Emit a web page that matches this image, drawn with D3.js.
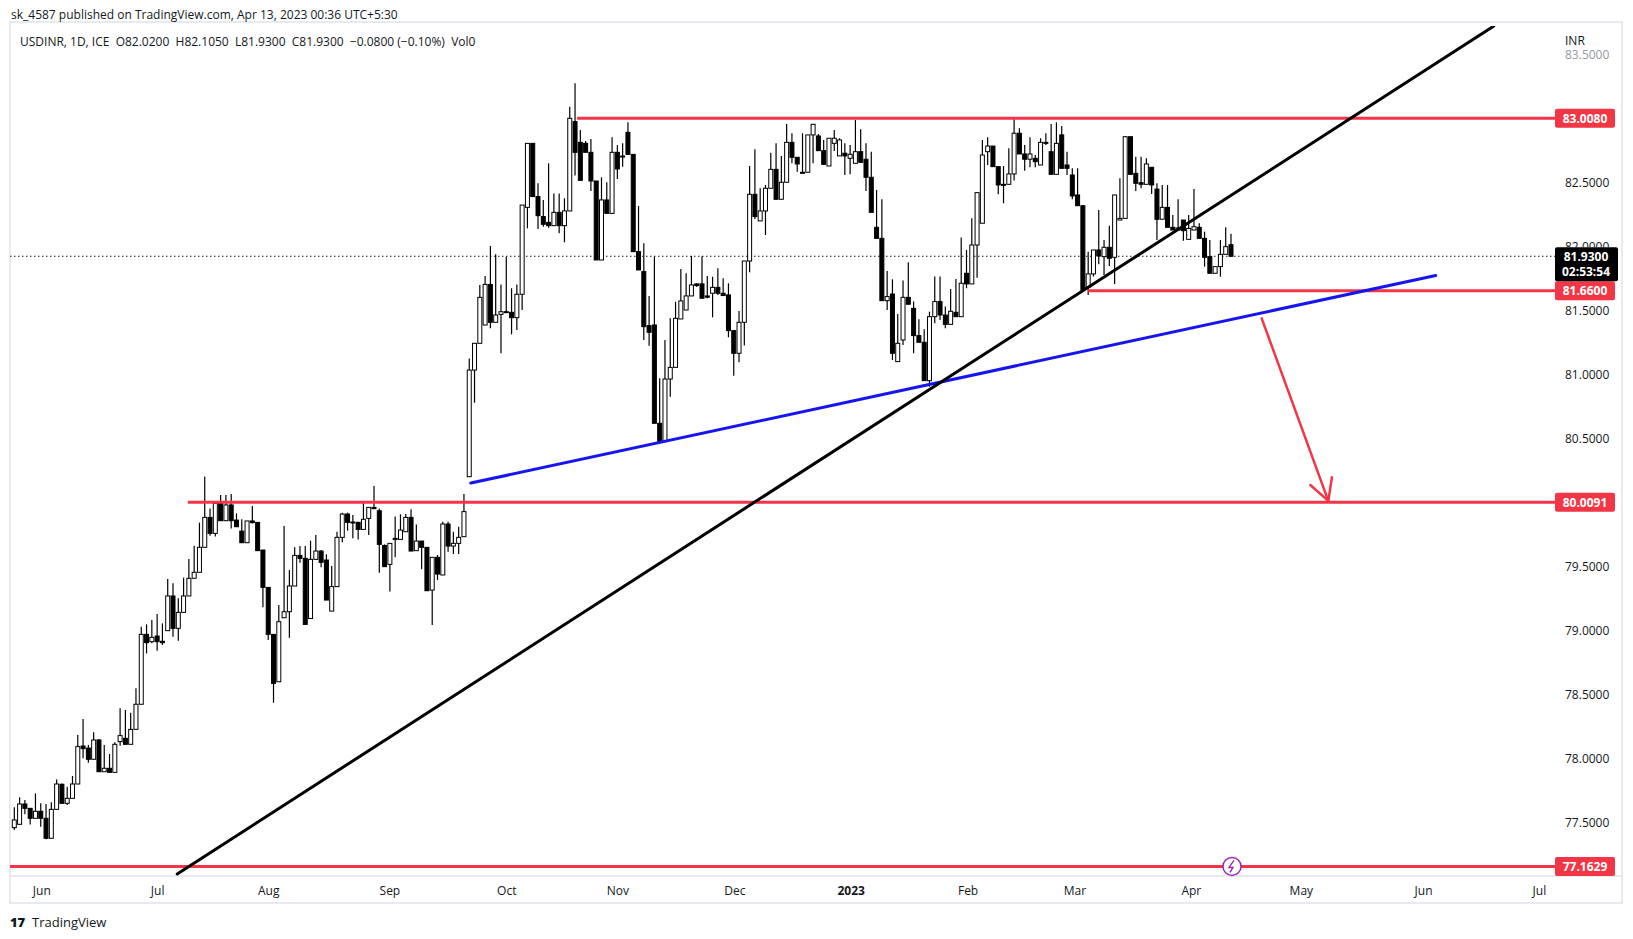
<!DOCTYPE html>
<html>
<head>
<meta charset="utf-8">
<script src="https://cdn.jsdelivr.net/npm/d3@7"></script>
<style>
  body { margin: 0; background: #fff; font-family: "Open Sans", "Liberation Sans", sans-serif; }
  svg text { fill: #131722; }
</style>
</head>
<body>
<div id="vis"></div>
<script>
// --- data (one value per daily bar) ---
const opens = [77.466,77.492,77.651,77.617,77.539,77.594,77.539,77.383,77.609,77.805,
77.656,77.695,77.807,78.104,78.088,78.0,78.151,77.903,77.93,77.898,
78.138,78.164,78.117,78.234,78.43,78.976,78.919,78.963,78.922,79.005,
79.276,79.023,79.148,79.276,79.414,79.461,79.656,79.89,79.765,79.999,
79.864,79.987,79.869,79.783,79.692,79.862,79.851,79.635,79.343,78.976,
78.606,79.106,79.153,79.354,79.593,79.57,79.1,79.562,79.627,79.557,
79.158,79.349,79.734,79.916,79.854,79.851,79.796,79.882,79.968,79.942,
79.671,79.523,79.721,79.718,79.778,79.89,79.63,79.705,79.656,79.322,
79.578,79.44,79.838,79.666,79.687,79.739,80.208,81.041,81.25,81.393,
81.71,81.414,81.476,81.497,81.492,81.45,81.633,82.312,82.812,82.396,
82.24,82.195,82.169,82.273,82.169,82.284,82.982,82.82,82.812,82.742,
82.518,81.901,82.37,82.265,82.742,82.708,82.898,82.726,81.966,81.81,
81.388,81.393,80.625,80.482,80.971,81.062,81.44,81.51,81.62,81.714,
81.714,81.62,81.641,81.687,81.641,81.628,81.349,81.172,81.414,81.893,
82.414,82.206,82.284,82.461,82.609,82.375,82.508,82.82,82.703,82.586,
82.586,82.878,82.87,82.755,82.635,82.812,82.714,82.735,82.695,82.656,
82.747,82.688,82.547,82.156,82.07,81.583,81.635,81.107,81.276,81.609,
81.523,81.31,81.258,80.958,81.458,81.576,81.471,81.398,81.492,81.458,
81.797,81.714,82.018,82.188,82.747,82.791,82.63,82.492,82.492,82.573,
82.891,82.729,82.688,82.695,82.643,82.82,82.747,82.57,82.878,82.643,
82.565,82.409,82.325,81.688,81.792,81.979,81.927,82.0,81.922,82.213,
82.226,82.864,82.578,82.505,82.492,82.625,82.455,82.219,82.312,82.156,
82.135,82.213,82.062,82.135,82.156,82.07,81.927,81.797,81.849,81.945,82.02];

const highs = [77.625,77.703,77.682,77.617,77.734,77.656,77.65,77.664,77.843,77.81,
77.786,77.87,78.19,78.315,78.112,78.211,78.159,78.112,78.041,78.133,
78.398,78.385,78.364,78.555,79.036,79.054,79.088,79.135,79.062,79.409,
79.375,79.258,79.419,79.565,79.669,79.849,80.21,79.96,80.0,80.065,
80.065,80.073,79.921,79.875,79.862,79.979,79.851,79.635,79.343,78.976,
79.205,79.823,79.479,79.656,79.666,79.666,79.708,79.752,79.635,79.601,
79.51,79.778,79.927,79.927,79.908,79.856,80.005,79.968,80.135,79.96,
79.679,79.687,79.896,79.914,79.916,79.953,79.835,79.705,79.656,79.578,
79.596,79.856,79.856,79.778,79.817,80.073,81.132,81.25,81.705,81.776,
82.01,81.945,81.71,81.927,81.68,81.71,82.33,82.812,82.812,82.5,
82.37,82.656,82.421,82.421,82.383,83.099,83.281,82.916,82.83,82.846,
82.518,82.547,82.508,82.859,82.799,82.812,82.976,82.726,82.323,82.031,
81.619,81.927,80.976,81.276,81.445,81.575,81.831,81.797,81.932,81.72,
81.93,81.776,81.77,81.836,81.758,81.719,81.349,81.503,81.893,82.635,
82.766,82.461,82.487,82.739,82.812,82.713,82.963,82.891,82.703,82.891,
82.878,82.961,82.885,82.838,82.852,82.917,82.852,82.813,82.8,82.995,
82.922,82.813,82.747,82.448,82.375,81.815,81.75,81.479,81.74,81.883,
81.576,81.437,81.36,81.497,81.771,81.771,81.537,81.675,81.753,82.076,
81.979,82.227,82.427,82.839,82.859,82.791,82.63,82.635,82.773,83.0,
82.93,82.8,82.859,82.721,82.852,82.891,82.963,82.976,82.948,82.747,
82.617,82.617,82.325,81.966,81.979,82.291,82.057,82.169,82.409,82.539,
82.87,82.864,82.708,82.708,82.695,82.625,82.5,82.487,82.487,82.252,
82.375,82.213,82.252,82.455,82.187,82.122,82.057,81.849,82.057,82.156,82.105];

const lows = [77.448,77.49,77.57,77.49,77.539,77.474,77.375,77.383,77.604,77.65,
77.643,77.695,77.807,78.008,77.974,78.0,77.903,77.903,77.898,77.898,
78.106,78.117,78.117,78.234,78.43,78.828,78.906,78.849,78.893,79.005,
78.958,78.927,79.148,79.276,79.414,79.461,79.656,79.747,79.74,79.864,
79.864,79.804,79.817,79.692,79.692,79.843,79.63,79.187,78.932,78.442,
78.606,79.106,78.95,79.354,79.536,79.054,79.1,79.562,79.5,79.244,
79.158,79.349,79.695,79.786,79.726,79.718,79.796,79.752,79.958,79.458,
79.505,79.31,79.578,79.718,79.778,79.627,79.63,79.484,79.317,79.049,
79.4,79.44,79.622,79.604,79.604,79.739,80.208,80.786,81.25,81.393,
81.367,81.414,81.172,81.492,81.32,81.354,81.51,82.148,82.396,82.143,
82.161,82.153,82.169,82.109,82.039,82.284,82.56,82.523,82.742,82.44,
81.901,81.901,82.265,82.265,82.534,82.63,82.726,81.966,81.823,81.276,
81.231,80.625,80.482,80.482,80.833,81.062,81.44,81.51,81.62,81.69,
81.602,81.602,81.453,81.628,81.623,81.297,80.997,81.102,81.232,81.805,
82.221,82.206,82.096,82.461,82.375,82.375,82.508,82.656,82.591,82.578,
82.586,82.656,82.755,82.643,82.635,82.753,82.714,82.565,82.57,82.656,
82.664,82.44,82.273,82.07,81.583,81.51,81.12,81.107,81.237,81.555,
81.172,81.258,80.958,80.911,81.406,81.432,81.367,81.398,81.458,81.458,
81.68,81.714,81.763,82.188,82.643,82.63,82.414,82.344,82.492,82.521,
82.729,82.599,82.625,82.625,82.643,82.8,82.57,82.57,82.617,82.565,
82.375,82.325,81.667,81.628,81.771,81.867,81.784,81.854,81.713,82.213,
82.226,82.57,82.44,82.461,82.492,82.417,82.057,82.219,82.156,82.135,
82.135,82.052,82.062,82.135,82.07,81.849,81.797,81.797,81.771,81.945,81.93];

const closes = [77.526,77.651,77.617,77.539,77.594,77.539,77.383,77.609,77.807,77.656,
77.695,77.807,78.099,78.083,78.0,78.151,77.903,77.93,77.898,78.117,
78.185,78.117,78.234,78.43,78.976,78.911,78.953,78.919,78.911,79.276,
79.023,79.148,79.276,79.414,79.461,79.656,79.89,79.765,80.0,79.864,
79.987,79.864,79.817,79.692,79.862,79.849,79.63,79.343,78.976,78.593,
79.075,79.153,79.354,79.593,79.57,79.054,79.562,79.627,79.539,79.244,
79.349,79.734,79.916,79.851,79.849,79.796,79.875,79.968,79.958,79.679,
79.505,79.687,79.726,79.791,79.89,79.627,79.705,79.656,79.317,79.578,
79.447,79.838,79.666,79.687,79.734,79.935,81.041,81.25,81.609,81.71,
81.414,81.471,81.497,81.492,81.45,81.633,82.33,82.812,82.396,82.247,
82.18,82.169,82.273,82.169,82.284,83.008,82.742,82.523,82.742,82.518,
81.901,82.37,82.265,82.742,82.612,82.713,82.726,81.966,81.823,81.38,
81.336,80.625,80.482,80.971,81.062,81.445,81.581,81.62,81.706,81.701,
81.602,81.61,81.687,81.641,81.623,81.349,81.172,81.414,81.893,82.414,
82.24,82.284,82.461,82.609,82.375,82.508,82.82,82.703,82.651,82.578,
82.878,82.961,82.755,82.648,82.852,82.852,82.839,82.714,82.727,82.747,
82.664,82.547,82.273,82.07,81.583,81.615,81.172,81.25,81.609,81.555,
81.31,81.258,80.958,81.458,81.576,81.471,81.398,81.5,81.458,81.719,
81.714,82.018,82.427,82.721,82.791,82.63,82.487,82.484,82.573,82.891,
82.729,82.688,82.729,82.669,82.82,82.812,82.57,82.812,82.617,82.617,
82.401,82.325,81.667,81.792,81.979,81.932,82.0,81.914,82.409,82.226,
82.864,82.57,82.5,82.492,82.651,82.487,82.219,82.312,82.156,82.135,
82.151,82.13,82.148,82.161,82.07,81.922,81.797,81.849,81.945,82.005,81.93];

// month labels, positioned by bar index
const monthLabels = ["Jun","Jul","Aug","Sep","Oct","Nov","Dec","2023","Feb","Mar","Apr","May","Jun","Jul"];
const monthIndex = [5.2,27.1,48.1,71.0,93.1,114.1,136.2,158.2,180.3,200.5,222.5,243.3,266.4,288.3];

const priceTicks = [83.5,82.5,82.0,81.5,81.0,80.5,79.5,79.0,78.5,78.0,77.5];

// drawn levels and trend lines: [startIndex, startPrice, endIndex, endPrice]
const levels = [
  { price: 83.008, from: 106.4, label: "83.0080" },
  { price: 81.66,  from: 203,   label: "81.6600" },
  { price: 80.0091, from: 32.8, label: "80.0091" },
  { price: 77.1629, from: -3,   label: "77.1629" }
];
const blackTrend = [30.8, 77.104, 279.7, 83.729];
const blueTrend = [86.3, 80.158, 268.7, 81.78];
const arrowLine = [235.8, 81.445, 248.4, 80.019];
const lastPrice = 81.93;

const W = 1633, H = 939;
const pane = { left: 10, right: 1555, top: 26, bottom: 876 };

const svg = d3.select("#vis").append("svg").attr("width", W).attr("height", H);

const x = d3.scaleLinear().domain([0, 230]).range([14.3, 1231]);
const y = d3.scaleLinear().domain([77.5, 83.5]).range([823.3, 55.3]);

// frame
svg.append("rect").attr("x", 10).attr("y", 22).attr("width", 1612).attr("height", 881)
  .attr("fill", "none").attr("stroke", "#e0e3eb").attr("stroke-width", 1.5);
svg.append("line").attr("x1", 10).attr("x2", 1622).attr("y1", pane.bottom).attr("y2", pane.bottom)
  .attr("stroke", "#e0e3eb").attr("stroke-width", 1.5);

svg.append("clipPath").attr("id", "pane").append("rect")
  .attr("x", pane.left).attr("y", pane.top)
  .attr("width", pane.right - pane.left).attr("height", pane.bottom - pane.top);

const g = svg.append("g").attr("clip-path", "url(#pane)");

// last price dotted line
g.append("line").attr("x1", pane.left).attr("x2", pane.right)
  .attr("y1", y(lastPrice)).attr("y2", y(lastPrice))
  .attr("stroke", "#131722").attr("stroke-dasharray", "1.5,2.5");

// candles
const bars = d3.range(closes.length);
const candle = g.selectAll(".candle").data(bars).join("g").attr("class", "candle");
candle.append("line")
  .attr("x1", i => x(i)).attr("x2", i => x(i))
  .attr("y1", i => y(highs[i])).attr("y2", i => y(lows[i]))
  .attr("stroke", "#000").attr("stroke-width", 1.2);
candle.append("rect")
  .attr("x", i => x(i) - 2)
  .attr("y", i => y(Math.max(opens[i], closes[i])))
  .attr("width", 4)
  .attr("height", i => Math.max(1, Math.abs(y(opens[i]) - y(closes[i]))))
  .attr("fill", i => closes[i] >= opens[i] ? "#fff" : "#000")
  .attr("stroke", "#000").attr("stroke-width", 1);

// horizontal levels
g.selectAll(".level").data(levels).join("line")
  .attr("x1", d => Math.max(pane.left, x(d.from))).attr("x2", pane.right)
  .attr("y1", d => y(d.price)).attr("y2", d => y(d.price))
  .attr("stroke", "#f23645").attr("stroke-width", 3);

// trend lines
const seg = (t, color, w) => g.append("line")
  .attr("x1", x(t[0])).attr("y1", y(t[1])).attr("x2", x(t[2])).attr("y2", y(t[3]))
  .attr("stroke", color).attr("stroke-width", w).attr("stroke-linecap", "round");
seg(blueTrend, "#1515f0", 3);
seg(blackTrend, "#000", 3);
seg(arrowLine, "#f23645", 2.5);

// arrow head
const ax = x(arrowLine[2]), ay = y(arrowLine[3]);
const ang = Math.atan2(ay - y(arrowLine[1]), ax - x(arrowLine[0]));
[0.5, -0.5].forEach(da => {
  g.append("line").attr("x1", ax).attr("y1", ay)
    .attr("x2", ax - 24 * Math.cos(ang + da)).attr("y2", ay - 24 * Math.sin(ang + da))
    .attr("stroke", "#f23645").attr("stroke-width", 2.5).attr("stroke-linecap", "round");
});

// lightning marker on the bottom level
const lx = 1232, ly = y(77.1629);
svg.append("circle").attr("cx", lx).attr("cy", ly).attr("r", 9)
  .attr("fill", "#fff").attr("stroke", "#9c27b0").attr("stroke-width", 1.5);
svg.append("path")
  .attr("d", `M${lx + 2},${ly - 6} L${lx - 3},${ly + 1} L${lx + 1},${ly + 1} L${lx - 2},${ly + 6}`)
  .attr("fill", "none").attr("stroke", "#9c27b0").attr("stroke-width", 1.4);

// price axis (82.0000 sits mostly behind the last-price badge, as in the original)
svg.append("text").attr("x", 1565).attr("y", 45).attr("font-size", 12).text("INR");
svg.selectAll(".ptick").data(priceTicks.filter(d => d !== 82.0)).join("text")
  .attr("x", 1565).attr("y", d => y(d) + 4).attr("font-size", 12)
  .style("fill", d => d === 83.5 ? "#9598a1" : "#131722")
  .text(d => d.toFixed(4));
svg.append("clipPath").attr("id", "tickclip").append("rect")
  .attr("x", 1555).attr("y", y(82.0) - 10).attr("width", 70).attr("height", y(lastPrice) - 9 - (y(82.0) - 10));
svg.append("text").attr("clip-path", "url(#tickclip)")
  .attr("x", 1565).attr("y", y(82.0) + 4).attr("font-size", 12).text("82.0000");

// level badges
const badge = svg.selectAll(".badge").data(levels).join("g");
badge.append("rect").attr("x", 1555).attr("y", d => y(d.price) - 9.5)
  .attr("width", 60).attr("height", 19).attr("rx", 2).attr("fill", "#f23645");
badge.append("text").attr("x", 1585).attr("y", d => y(d.price) + 4.5)
  .attr("text-anchor", "middle").attr("font-size", 12).attr("font-weight", "bold")
  .style("fill", "#fff").text(d => d.label);

// last price badge
const ly2 = y(lastPrice);
svg.append("rect").attr("x", 1555).attr("y", ly2 - 9).attr("width", 63).attr("height", 34)
  .attr("rx", 2).attr("fill", "#000");
svg.append("text").attr("x", 1586).attr("y", ly2 + 5).attr("text-anchor", "middle")
  .attr("font-size", 12).attr("font-weight", "bold").style("fill", "#fff").text("81.9300");
svg.append("text").attr("x", 1586).attr("y", ly2 + 20).attr("text-anchor", "middle")
  .attr("font-size", 12).attr("font-weight", "bold").style("fill", "#fff").text("02:53:54");

// time axis
svg.selectAll(".mtick").data(monthLabels).join("text")
  .attr("x", (d, i) => x(monthIndex[i])).attr("y", 895)
  .attr("text-anchor", "middle").attr("font-size", 12)
  .attr("font-weight", d => d === "2023" ? "bold" : "normal")
  .text(d => d);

// header
svg.append("text").attr("x", 11).attr("y", 19).attr("font-size", 12)
  .text("sk_4587 published on TradingView.com, Apr 13, 2023 00:36 UTC+5:30");
svg.append("text").attr("x", 20).attr("y", 46).attr("font-size", 12)
  .text("USDINR, 1D, ICE  O82.0200  H82.1050  L81.9300  C81.9300  \u22120.0800 (\u22120.10%)  Vol0")
  .attr("xml:space", "preserve").style("white-space", "pre");

// footer logo
svg.append("text").attr("x", 10).attr("y", 927).attr("font-size", 13).attr("font-weight", 900)
  .text("17");
svg.append("text").attr("x", 32).attr("y", 927).attr("font-size", 13).text("TradingView");
</script>
</body>
</html>
